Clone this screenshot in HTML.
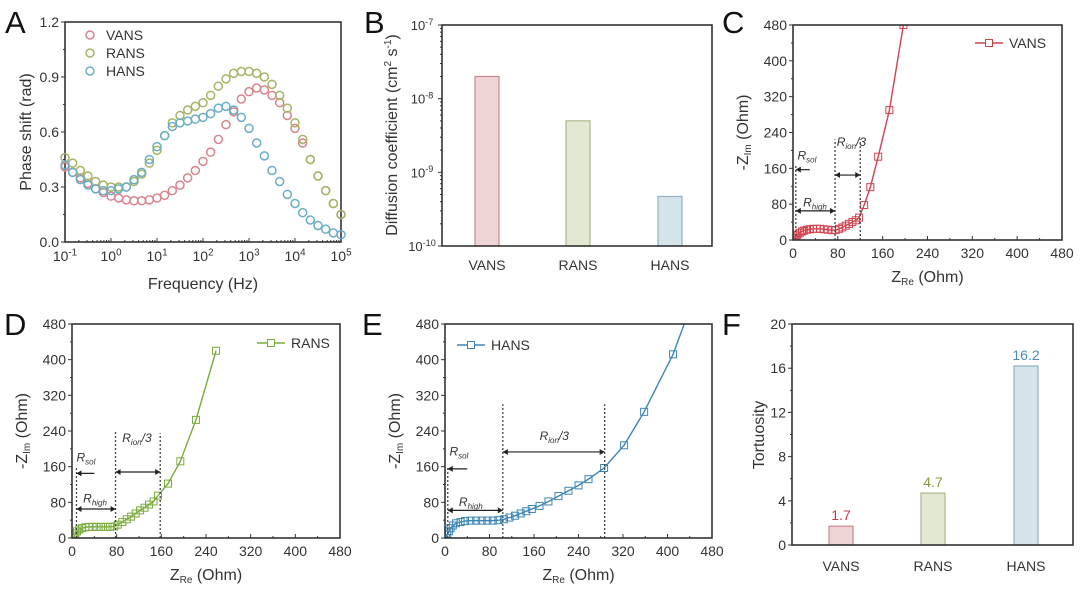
<!DOCTYPE html>
<html><head><meta charset="utf-8"><style>
html,body{margin:0;padding:0;background:#fff;}
svg{display:block;font-family:"Liberation Sans",Arial,sans-serif;}
</style></head><body>
<svg id="fig" width="1080" height="593" viewBox="0 0 1080 593"></svg>
<script>
// ---------- Panel A data ----------
const aLogF0 = -1, aStep = 1/6;
const aVANS = [0.41,0.38,0.35,0.32,0.29,0.27,0.25,0.24,0.23,0.225,0.225,0.23,0.24,0.255,0.28,0.31,0.35,0.39,0.44,0.49,0.56,0.64,0.71,0.78,0.82,0.84,0.83,0.80,0.76,0.69,0.62,0.54,0.45,0.36,0.28,0.21,0.15];
const aRANS = [0.46,0.43,0.39,0.36,0.33,0.31,0.30,0.30,0.30,0.33,0.37,0.43,0.50,0.58,0.65,0.69,0.72,0.74,0.76,0.80,0.85,0.89,0.92,0.93,0.93,0.92,0.90,0.86,0.80,0.73,0.65,0.56,0.45,0.36,0.28,0.21,0.15];
const aHANS = [0.42,0.38,0.34,0.31,0.29,0.28,0.28,0.29,0.30,0.34,0.38,0.45,0.52,0.58,0.63,0.65,0.66,0.67,0.68,0.70,0.73,0.74,0.72,0.68,0.62,0.54,0.47,0.39,0.33,0.26,0.21,0.16,0.12,0.09,0.07,0.05,0.04];
const aYTicks = [0,0.3,0.6,0.9,1.2];
const aYLabels = ["0.0","0.3","0.6","0.9","1.2"];
const aXExps = [-1,0,1,2,3,4,5];
// ---------- Panel B data ----------
const bCats = ["VANS","RANS","HANS"];
const bVals = [2e-8,5e-9,4.7e-10];
const bExps = [-10,-9,-8,-7];
// ---------- Panel C/D/E data ----------
const cRe = [2,4,6,8,12,16,20,25,30,36,42,48,55,62,70,76,82,88,94,100,106,112,118,127,138,152,172,197];
const cIm = [0,4,8,12,16,19,21,23,24,25,25,25,24,23,22,22,25,28,32,36,40,44,50,78,118,186,290,480];
const dRe = [2,4,6,9,13,18,24,30,37,44,52,60,68,76,82,90,98,106,114,122,130,138,146,154,172,194,222,258];
const dIm = [0,5,10,15,19,22,24,25,25,25,25,25,25,26,30,36,42,48,55,62,68,75,82,95,122,172,265,420];
const eRe = [2,4,7,10,14,20,28,36,46,56,66,76,86,96,106,116,126,136,146,156,170,186,204,222,240,258,286,322,358,410];
const eIm = [0,8,15,22,28,33,36,38,39,39,39,39,39,40,42,46,50,55,60,65,72,82,94,106,118,132,157,208,283,412];
const eTailRe = [430];
const eTailIm = [480];
const nyTicks = [0,80,160,240,320,400,480];
// ---------- Panel F data ----------
const fCats = ["VANS","RANS","HANS"];
const fVals = [1.7,4.7,16.2];
const fLabels = ["1.7","4.7","16.2"];
const fTicks = [0,4,8,12,16,20];

const NS="http://www.w3.org/2000/svg";
const svg=document.getElementById('fig');
const TK=14, TT=16;
function mk(tag,attrs,parent){const e=document.createElementNS(NS,tag);for(const k in attrs)e.setAttribute(k,attrs[k]);(parent||svg).appendChild(e);return e;}
function txt(s,attrs,parent){const e=mk('text',attrs,parent);e.textContent=s;return e;}
function sup(base,exp,x,y,size,parent){const t=mk('text',{x:x,y:y,'font-size':size,'text-anchor':'middle',fill:'#333'},parent);
 const a=mk('tspan',{},t);a.textContent=base;const b=mk('tspan',{dy:-size*0.4,'font-size':size*0.7},t);b.textContent=exp;return t;}
function frame(g,L,T,R,B){const r=mk('rect',{x:L,y:T,width:R-L,height:B-T,fill:'none',stroke:'#333','stroke-width':1.6},g);}
function letter(s,x,y){const t=txt(s,{x:x,y:y,'font-size':31,fill:'#111'});}
function ytitle(parts,cx,cy,g){const t=mk('text',{transform:`translate(${cx},${cy}) rotate(-90)`,'text-anchor':'middle','font-size':TT,fill:'#333'},g);
 parts.forEach(p=>{const s=mk('tspan',p.sub?{'font-size':10,dy:3}:(p.sup?{'font-size':10,dy:-6}:(p.reset?{dy:p.reset}:{})),t);s.textContent=p.t;});return t;}

// ================= Panel A =================
letter('A',5,33);
{const g=mk('g',{});
 const L=65,R=341,T=22,B=242;
 const X=lf=>L+(lf-(-1))/6*(R-L), Y=v=>B-v/1.2*(B-T);
 aYTicks.forEach((v,i)=>{mk('line',{x1:L-4,x2:L,y1:Y(v),y2:Y(v),stroke:'#333'},g);
  const t=txt(aYLabels[i],{x:L-6,y:Y(v)+5,'font-size':TK,'text-anchor':'end',fill:'#333'},g);
  if(i<aYTicks.length-1)mk('line',{x1:L-2,x2:L,y1:Y(v+0.15),y2:Y(v+0.15),stroke:'#333'},g);});
 aXExps.forEach(e=>{mk('line',{x1:X(e),x2:X(e),y1:B,y2:B-4,stroke:'#333'},g);
  const t=sup('10',String(e),X(e),B+19,TK,g);
  if(e<5)for(let m=2;m<10;m++){const xx=X(e+Math.log10(m));mk('line',{x1:xx,x2:xx,y1:B,y2:B-2,stroke:'#333'},g);}});
 frame(g,L,T,R,B);
 const series=[[aVANS,'#d8848c','VANS'],[aRANS,'#a6b466','RANS'],[aHANS,'#6aaec6','HANS']];
 series.forEach(([arr,col,nm])=>{arr.forEach((v,i)=>{const c=mk('circle',{cx:X(aLogF0+i*aStep),cy:Y(v),r:4,fill:'none',stroke:col,'stroke-width':1.5},g);
  });});
 series.forEach(([arr,col,nm],i)=>{const le=mk('g',{},g);
  mk('circle',{cx:90,cy:35+i*18,r:4,fill:'none',stroke:col,'stroke-width':1.5},le);txt(nm,{x:106,y:40+i*18,'font-size':TK,fill:'#333'},le);});
 const yt=ytitle([{t:'Phase shift (rad)'}],31,132,g);
 const xt=txt('Frequency (Hz)',{x:203,y:289,'font-size':TT,'text-anchor':'middle',fill:'#333'},g);
}

// ================= Panel B =================
letter('B',364,33);
{const g=mk('g',{});
 const L=442,R=712,T=25,B=246;
 const Y=v=>B-(Math.log10(v)+10)/3*(B-T);
 const cx=[487,578,670],cols=[['#efd4d6','#c98a90'],['#e2e8d4','#a9b88c'],['#d6e4ec','#8fb0c4']];
 bVals.forEach((v,i)=>{const r=mk('rect',{x:cx[i]-12,y:Y(v),width:24,height:B-Y(v),fill:cols[i][0],stroke:cols[i][1],'stroke-width':1.2},g);
  
  const t=txt(bCats[i],{x:cx[i],y:270,'font-size':TK,'text-anchor':'middle',fill:'#333'},g);});
 bExps.forEach((e,i)=>{mk('line',{x1:L-4,x2:L,y1:Y(10**e),y2:Y(10**e),stroke:'#333'},g);
  const t=sup('10',String(e),L-20,Y(10**e)+5,13,g);
  if(i<3)for(let m=2;m<10;m++){const yy=Y(m*10**e);mk('line',{x1:L-2,x2:L,y1:yy,y2:yy,stroke:'#333'},g);}});
 frame(g,L,T,R,B);
 const yt=ytitle([{t:'Diffusion coefficient (cm'},{t:'2',sup:true},{t:' s',reset:6},{t:'-1',sup:true},{t:')',reset:6}],397,135,g);
}

// ================= Nyquist panels =================
function nyquist(name,L,T,R,B,re,im,col,legX,legY,dots,arrows,labels,xt,tailRe,tailIm){
 const g=mk('g',{});
 const X=v=>L+v/480*(R-L), Y=v=>B-v/480*(B-T);
 nyTicks.forEach((v,i)=>{mk('line',{x1:L-4,x2:L,y1:Y(v),y2:Y(v),stroke:'#333'},g);mk('line',{x1:X(v),x2:X(v),y1:B,y2:B-4,stroke:'#333'},g);
  const a=txt(String(v),{x:L-6,y:Y(v)+5,'font-size':TK,'text-anchor':'end',fill:'#333'},g);
  const b=txt(String(v),{x:X(v),y:B+18,'font-size':TK,'text-anchor':'middle',fill:'#333'},g);
  if(i<6){mk('line',{x1:L-2,x2:L,y1:Y(v+40),y2:Y(v+40),stroke:'#333'},g);mk('line',{x1:X(v+40),x2:X(v+40),y1:B,y2:B-2,stroke:'#333'},g);}});
 const cp=mk('clipPath',{id:'clip'+name},g);mk('rect',{x:L,y:T,width:R-L,height:B-T},cp);
 const pg=mk('g',{'clip-path':`url(#clip${name})`},g);
 const lr=re.concat(tailRe||[]), li=im.concat(tailIm||[]);
 const pts=lr.map((r,i)=>X(r)+','+Y(li[i])).join(' ');
 const pl=mk('polyline',{points:pts,fill:'none',stroke:col,'stroke-width':1.4},pg);
 re.forEach((r,i)=>{const s=mk('rect',{x:X(r)-3.5,y:Y(im[i])-3.5,width:7,height:7,fill:'none',stroke:col,'stroke-width':1},pg);});
 dots.forEach(([x,h])=>{const d=mk('line',{x1:X(x),x2:X(x),y1:B,y2:Y(h),stroke:'#444','stroke-width':1.3,'stroke-dasharray':'2,2'},g);});
 arrows.forEach(([x1,x2,y,both])=>{const a=mk('g',{},g);
  const ax1=X(x1),ax2=X(x2),ay=Y(y);mk('line',{x1:ax1,x2:ax2,y1:ay,y2:ay,stroke:'#222','stroke-width':1.2},a);
  mk('polygon',{points:`${ax1},${ay} ${ax1+5},${ay-3} ${ax1+5},${ay+3}`,fill:'#222'},a);
  if(both)mk('polygon',{points:`${ax2},${ay} ${ax2-5},${ay-3} ${ax2-5},${ay+3}`,fill:'#222'},a);});
 labels.forEach(([sub,x,y,suffix])=>{const t=mk('text',{x:X(x),y:Y(y),'font-size':12,'font-style':'italic',fill:'#333'},g);
  const a=mk('tspan',{},t);a.textContent='R';const b=mk('tspan',{'font-size':8,dy:3},t);b.textContent=sub;if(suffix){const c=mk('tspan',{dy:-3},t);c.textContent=suffix;}});
 frame(g,L,T,R,B);
 const le=mk('g',{},g);
 mk('line',{x1:legX,x2:legX+28,y1:legY,y2:legY,stroke:col,'stroke-width':1.4},le);mk('rect',{x:legX+10.5,y:legY-3.5,width:7,height:7,fill:'#fff',stroke:col},le);
 txt(xt,{x:legX+34,y:legY+5,'font-size':TK,fill:'#333'},le);
 const yt=mk('text',{transform:`translate(${L-45},${(T+B)/2}) rotate(-90)`,'text-anchor':'middle','font-size':TT,fill:'#333'},g);
 let s=mk('tspan',{},yt);s.textContent='-Z';s=mk('tspan',{'font-size':10,dy:3},yt);s.textContent='Im';s=mk('tspan',{dy:-3},yt);s.textContent=' (Ohm)';
 const xtt=mk('text',{x:(L+R)/2,y:B+42,'text-anchor':'middle','font-size':TT,fill:'#333'},g);
 s=mk('tspan',{},xtt);s.textContent='Z';s=mk('tspan',{'font-size':10,dy:3},xtt);s.textContent='Re';s=mk('tspan',{dy:-3},xtt);s.textContent=' (Ohm)';
}
letter('C',722,33);
nyquist('C',793,25,1062,240,cRe,cIm,'#d0424e',975,43,[[5,170],[75,225],[120,225]],[[5,30,157,false],[5,75,65,true],[75,120,145,true]],[['sol',8,180],['high',18,75],['ion',78,210,'/3']],'VANS');
letter('D',4,335);
nyquist('D',72,324,340,538,dRe,dIm,'#7aab3c',257,343,[[8,160],[78,240],[158,235]],[[8,40,145,false],[8,78,65,true],[78,158,148,true]],[['sol',8,172],['high',20,80],['ion',90,215,'/3']],'RANS');
letter('E',362,335);
nyquist('E',445,324,712,538,eRe,eIm,'#3d85b5',457,345,[[5,160],[104,300],[287,300]],[[5,40,155,false],[5,104,62,true],[104,287,193,true]],[['sol',8,185],['high',25,72],['ion',170,220,'/3']],'HANS',eTailRe,eTailIm);

// ================= Panel F =================
letter('F',722,335);
{const g=mk('g',{});
 const L=792,R=1073,T=324,B=545;
 const Y=v=>B-v/20*(B-T);
 fTicks.forEach((v,i)=>{mk('line',{x1:L-4,x2:L,y1:Y(v),y2:Y(v),stroke:'#333'},g);
  const t=txt(String(v),{x:L-6,y:Y(v)+5,'font-size':TK,'text-anchor':'end',fill:'#333'},g);
  if(i<5)mk('line',{x1:L-2,x2:L,y1:Y(v+2),y2:Y(v+2),stroke:'#333'},g);});
 const cx=[841,933,1026],cols=[['#efd4d6','#c98a90','#c0404c'],['#e2e8d4','#a9b88c','#7f9a45'],['#d6e4ec','#8fb0c4','#4a8cbd']];
 fVals.forEach((v,i)=>{const r=mk('rect',{x:cx[i]-12,y:Y(v),width:24,height:B-Y(v),fill:cols[i][0],stroke:cols[i][1],'stroke-width':1.2},g);
  
  const vl=txt(fLabels[i],{x:cx[i],y:Y(v)-6,'font-size':TK,'text-anchor':'middle',fill:cols[i][2]},g);
  const t=txt(fCats[i],{x:cx[i],y:571,'font-size':TK,'text-anchor':'middle',fill:'#333'},g);});
 frame(g,L,T,R,B);
 const yt=ytitle([{t:'Tortuosity'}],764,435,g);
}
</script>
</body></html>
